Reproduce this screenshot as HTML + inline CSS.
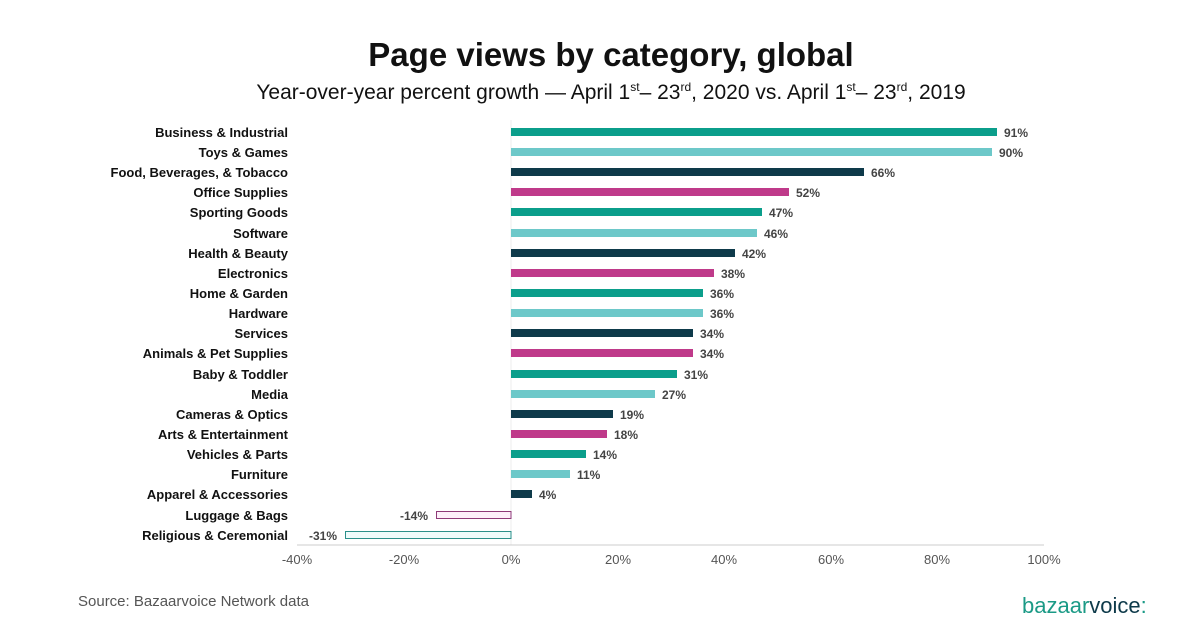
<!DOCTYPE html><html><head><style>body{margin:0;background:#fff}svg{display:block}text{font-family:"Liberation Sans",sans-serif}</style></head><body>
<svg width="1200" height="628" xmlns="http://www.w3.org/2000/svg">
<text x="611" y="66" text-anchor="middle" font-size="33" font-weight="bold" fill="#111">Page views by category, global</text>
<text x="611" y="99" text-anchor="middle" font-size="21" fill="#111">Year-over-year percent growth — April 1<tspan font-size="12" dy="-8">st</tspan><tspan dy="8">– 23</tspan><tspan font-size="12" dy="-8">rd</tspan><tspan dy="8">, 2020 vs. April 1</tspan><tspan font-size="12" dy="-8">st</tspan><tspan dy="8">– 23</tspan><tspan font-size="12" dy="-8">rd</tspan><tspan dy="8">, 2019</tspan></text>
<line x1="511" y1="120" x2="511" y2="545" stroke="#eee"/>
<line x1="297" y1="545" x2="1044" y2="545" stroke="#ccc"/>
<g font-size="13" fill="#555" text-anchor="middle">
<text x="297" y="564">-40%</text><text x="404" y="564">-20%</text><text x="511" y="564">0%</text><text x="618" y="564">20%</text><text x="724" y="564">40%</text><text x="831" y="564">60%</text><text x="937" y="564">80%</text><text x="1044" y="564">100%</text></g>
<g font-size="13" font-weight="bold" fill="#111" text-anchor="end">
<text x="288" y="137">Business &amp; Industrial</text>
<text x="288" y="157">Toys &amp; Games</text>
<text x="288" y="177">Food, Beverages, &amp; Tobacco</text>
<text x="288" y="197">Office Supplies</text>
<text x="288" y="217">Sporting Goods</text>
<text x="288" y="238">Software</text>
<text x="288" y="258">Health &amp; Beauty</text>
<text x="288" y="278">Electronics</text>
<text x="288" y="298">Home &amp; Garden</text>
<text x="288" y="318">Hardware</text>
<text x="288" y="338">Services</text>
<text x="288" y="358">Animals &amp; Pet Supplies</text>
<text x="288" y="379">Baby &amp; Toddler</text>
<text x="288" y="399">Media</text>
<text x="288" y="419">Cameras &amp; Optics</text>
<text x="288" y="439">Arts &amp; Entertainment</text>
<text x="288" y="459">Vehicles &amp; Parts</text>
<text x="288" y="479">Furniture</text>
<text x="288" y="499">Apparel &amp; Accessories</text>
<text x="288" y="520">Luggage &amp; Bags</text>
<text x="288" y="540">Religious &amp; Ceremonial</text>
</g>
<g>
<rect x="511" y="128" width="486" height="8" fill="#0b9e8b"/>
<rect x="511" y="148" width="481" height="8" fill="#6dc8c9"/>
<rect x="511" y="168" width="353" height="8" fill="#0e3a4a"/>
<rect x="511" y="188" width="278" height="8" fill="#bf3a8a"/>
<rect x="511" y="208" width="251" height="8" fill="#0b9e8b"/>
<rect x="511" y="229" width="246" height="8" fill="#6dc8c9"/>
<rect x="511" y="249" width="224" height="8" fill="#0e3a4a"/>
<rect x="511" y="269" width="203" height="8" fill="#bf3a8a"/>
<rect x="511" y="289" width="192" height="8" fill="#0b9e8b"/>
<rect x="511" y="309" width="192" height="8" fill="#6dc8c9"/>
<rect x="511" y="329" width="182" height="8" fill="#0e3a4a"/>
<rect x="511" y="349" width="182" height="8" fill="#bf3a8a"/>
<rect x="511" y="370" width="166" height="8" fill="#0b9e8b"/>
<rect x="511" y="390" width="144" height="8" fill="#6dc8c9"/>
<rect x="511" y="410" width="102" height="8" fill="#0e3a4a"/>
<rect x="511" y="430" width="96" height="8" fill="#bf3a8a"/>
<rect x="511" y="450" width="75" height="8" fill="#0b9e8b"/>
<rect x="511" y="470" width="59" height="8" fill="#6dc8c9"/>
<rect x="511" y="490" width="21" height="8" fill="#0e3a4a"/>
<rect x="436.5" y="511.5" width="74.5" height="7" fill="#fdf0fa" stroke="#8e3a78"/>
<rect x="345.5" y="531.5" width="165.5" height="7" fill="#eefbfb" stroke="#2a8f8a"/>
</g>
<g font-size="12" font-weight="bold" fill="#444">
<text x="1004" y="137">91%</text><text x="999" y="157">90%</text><text x="871" y="177">66%</text><text x="796" y="197">52%</text><text x="769" y="217">47%</text><text x="764" y="238">46%</text><text x="742" y="258">42%</text><text x="721" y="278">38%</text><text x="710" y="298">36%</text><text x="710" y="318">36%</text><text x="700" y="338">34%</text><text x="700" y="358">34%</text><text x="684" y="379">31%</text><text x="662" y="399">27%</text><text x="620" y="419">19%</text><text x="614" y="439">18%</text><text x="593" y="459">14%</text><text x="577" y="479">11%</text><text x="539" y="499">4%</text>
<text x="428" y="520" text-anchor="end">-14%</text><text x="337" y="540" text-anchor="end">-31%</text></g>
<text x="78" y="606" font-size="15" fill="#555">Source: Bazaarvoice Network data</text>
<text x="1022" y="613" font-size="22" fill="#1b9a86">bazaar<tspan fill="#0e3a4a">voice</tspan><tspan fill="#1b9a86">:</tspan></text>
</svg></body></html>
